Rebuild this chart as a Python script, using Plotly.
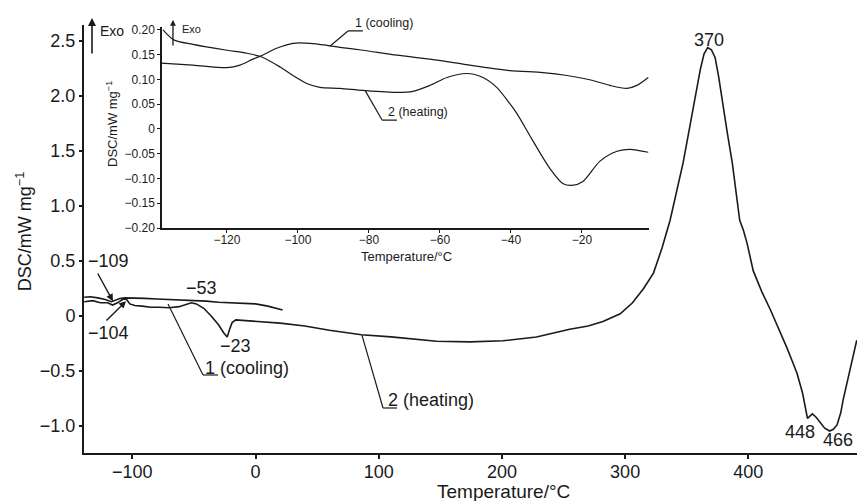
import plotly.graph_objects as go

# ---------------- data ----------------
# main chart: curve 1 (cooling)
cool_T = [-139, -134, -128, -122, -117, -114, -110, -106, -100, -90, -80, -70, -60,
          -50, -40, -30, -20, -10, 0, 10, 20, 22]
cool_v = [0.17, 0.175, 0.165, 0.15, 0.13, 0.14, 0.16, 0.165, 0.165, 0.16, 0.155, 0.15, 0.15,
          0.14, 0.135, 0.125, 0.12, 0.12, 0.11, 0.09, 0.065, 0.055]

# main chart: curve 2 (heating)
heat_T = [-139, -132, -126, -120, -116, -112, -108, -105, -102, -98, -92, -85, -78, -70,
          -62, -56, -52, -48, -42, -36, -30, -26, -23, -21, -19, -16, -10, 0, 20, 40, 60,
          86, 110, 147, 174, 201, 228, 255, 270, 282, 296, 306, 315, 323, 330, 336.5, 342,
          347, 351, 355, 358, 361, 364, 367, 370, 373, 376, 379, 383, 387, 390, 393, 396,
          399, 404, 411, 418, 425, 431, 436, 439.5, 444, 446, 448, 450, 452, 455, 458.5,
          462, 466, 469, 472, 475, 477, 481, 485, 488]
heat_v = [0.13, 0.14, 0.12, 0.12, 0.10, 0.12, 0.15, 0.155, 0.11, 0.095, 0.09, 0.08, 0.08,
          0.075, 0.085, 0.11, 0.12, 0.11, 0.07, 0.0, -0.08, -0.15, -0.19, -0.12, -0.06,
          -0.035, -0.04, -0.045, -0.065, -0.09, -0.13, -0.17, -0.19, -0.23, -0.235, -0.225,
          -0.19, -0.12, -0.09, -0.05, 0.02, 0.12, 0.25, 0.39, 0.62, 0.87, 1.13, 1.39, 1.63,
          1.87, 2.06, 2.24, 2.38, 2.44, 2.42, 2.35, 2.17, 1.94, 1.66, 1.39, 1.13, 0.87,
          0.78, 0.66, 0.41, 0.22, 0.055, -0.12, -0.28, -0.42, -0.52, -0.70, -0.80, -0.93,
          -0.91, -0.89, -0.92, -0.97, -1.02, -1.045, -1.03, -0.99, -0.88, -0.76, -0.56,
          -0.37, -0.22]

# inset: curve 2 (heating)
in_heat_T = [-138, -135, -129.6, -120, -114.4, -110, -105, -101.4, -97.5, -93.8, -88.2,
             -81.7, -72.1, -67.6, -62.8, -58, -52.4, -47.9, -44, -40.3, -38.3, -33.8, -29,
             -25.4, -22.8, -19.7, -14.9, -10.1, -6.5, -1.3]
in_heat_v = [0.20, 0.18, 0.171, 0.159, 0.153, 0.145, 0.125, 0.108, 0.092, 0.084, 0.082,
             0.078, 0.074, 0.076, 0.088, 0.104, 0.112, 0.104, 0.084, 0.051, 0.031, -0.024,
             -0.080, -0.110, -0.114, -0.106, -0.065, -0.045, -0.041, -0.047]

# inset: curve 1 (cooling)
in_cool_T = [-138.8, -129.6, -120, -116.3, -112.7, -110, -106, -101.4, -96.6, -91.8, -88.2,
             -81.7, -72.1, -62.8, -53.5, -40.3, -31, -24.2, -16.9, -12.1, -7.3, -4.5, -1.3]
in_cool_v = [0.133, 0.129, 0.124, 0.129, 0.141, 0.149, 0.163, 0.173, 0.173, 0.169, 0.165,
             0.159, 0.149, 0.141, 0.131, 0.118, 0.114, 0.108, 0.098, 0.088, 0.082, 0.088,
             0.104]

main_xticks = [-100, 0, 100, 200, 300, 400]
main_yticks = [-1.0, -0.5, 0, 0.5, 1.0, 1.5, 2.0, 2.5]
main_yticktext = ["−1.0", "−0.5", "0", "0.5", "1.0", "1.5", "2.0", "2.5"]
inset_xticks = [-120, -100, -80, -60, -40, -20]
inset_yticks = [-0.20, -0.15, -0.10, -0.05, 0, 0.05, 0.10, 0.15, 0.20]
inset_yticktext = ["−0.20", "−0.15", "−0.10", "−0.05", "0", "0.05", "0.10", "0.15", "0.20"]

INK = "#1a1a1a"
FONT = "Liberation Sans, Arial, sans-serif"

fig = go.Figure()
fig.add_trace(go.Scatter(x=cool_T, y=cool_v, mode="lines", line=dict(color=INK, width=1.6),
                         xaxis="x", yaxis="y", showlegend=False, hoverinfo="skip"))
fig.add_trace(go.Scatter(x=heat_T, y=heat_v, mode="lines", line=dict(color=INK, width=1.6),
                         xaxis="x", yaxis="y", showlegend=False, hoverinfo="skip"))
fig.add_trace(go.Scatter(x=in_heat_T, y=in_heat_v, mode="lines",
                         line=dict(color=INK, width=1.2, shape="spline", smoothing=0.8),
                         xaxis="x2", yaxis="y2", showlegend=False, hoverinfo="skip"))
fig.add_trace(go.Scatter(x=in_cool_T, y=in_cool_v, mode="lines",
                         line=dict(color=INK, width=1.2, shape="spline", smoothing=0.8),
                         xaxis="x2", yaxis="y2", showlegend=False, hoverinfo="skip"))

axis_common = dict(showgrid=False, zeroline=False, showline=True, linecolor=INK,
                   ticks="outside", tickcolor=INK, color=INK)

fig.update_layout(
    width=857, height=501,
    margin=dict(l=84, r=0, t=25, b=48),
    paper_bgcolor="white", plot_bgcolor="white",
    font=dict(family=FONT, color=INK),
    xaxis=dict(**axis_common, range=[-139.2, 488.2], domain=[0, 1], anchor="y",
               tickvals=main_xticks, linewidth=2, ticklen=4, tickwidth=1.5,
               ticklabelstandoff=-3, tickfont=dict(size=18)),
    yaxis=dict(**axis_common, range=[-1.245, 2.645], domain=[0, 1], anchor="x",
               tickvals=main_yticks, ticktext=main_yticktext, linewidth=2, ticklen=3,
               tickwidth=1.5, tickfont=dict(size=18)),
    xaxis2=dict(**axis_common, range=[-138.3, -1.1], domain=[0.1009, 0.7309], anchor="y2",
                tickvals=inset_xticks, linewidth=1.5, ticklen=3, tickwidth=1,
                ticklabelstandoff=-3, tickfont=dict(size=12)),
    yaxis2=dict(**axis_common, range=[-0.2, 0.205], domain=[0.5257, 0.9942], anchor="x2",
                tickvals=inset_yticks, ticktext=inset_yticktext, linewidth=1.5, ticklen=3,
                tickwidth=1, tickfont=dict(size=12)),
)


def label(text, xref, yref, x, y, size, xanchor="center", yanchor="middle", **kw):
    return dict(text=text, xref=xref, yref=yref, x=x, y=y, xanchor=xanchor,
                yanchor=yanchor, showarrow=False, font=dict(size=size), **kw)


ann = []
# axis titles
ann.append(label("Temperature/°C", "paper", "paper", 0.5433, -0.089, 19))
ann.append(label("DSC/mW mg<sup>−1</sup>", "paper", "paper", -0.0776, 0.516, 18,
                 textangle=-90))
ann.append(label("Temperature/°C", "paper", "paper", 0.4166, 0.4600, 13))
ann.append(label("DSC/mW mg<sup>−1</sup>", "paper", "paper", 0.0362, 0.7687, 13,
                 textangle=-90))
# Exo arrows
ann.append(dict(text="", xref="paper", yref="paper", x=0.01035, y=1.0164, ax=0, ay=37,
                showarrow=True, arrowhead=2, arrowsize=1, arrowwidth=1.6, arrowcolor=INK))
ann.append(label("Exo", "paper", "paper", 0.0181, 0.986, 14, xanchor="left"))
ann.append(dict(text="", xref="paper", yref="paper", x=0.1151, y=1.0117, ax=0, ay=27,
                showarrow=True, arrowhead=2, arrowsize=0.9, arrowwidth=1.3, arrowcolor=INK))
ann.append(label("Exo", "paper", "paper", 0.1242, 0.9907, 11, xanchor="left"))
# main peak labels
for txt, tx, ty in [("370", 368, 2.51), ("448", 442, -1.055), ("466", 472.8, -1.127),
                    ("−109", -119.7, 0.50), ("−104", -119.7, -0.155), ("−53", -43.5, 0.255),
                    ("−23", -16.6, -0.27)]:
    ann.append(label(txt, "x", "y", tx, ty, 18))
# arrows to -109 / -104
ann.append(dict(text="", xref="x", yref="y", axref="x", ayref="y", x=-115.7, y=0.135,
                ax=-128.7, ay=0.40, showarrow=True, arrowhead=2, arrowsize=1,
                arrowwidth=1.4, arrowcolor=INK))
ann.append(dict(text="", xref="x", yref="y", axref="x", ayref="y", x=-105.1, y=0.135,
                ax=-122.2, ay=-0.055, showarrow=True, arrowhead=2, arrowsize=1,
                arrowwidth=1.4, arrowcolor=INK))
# curve labels (main)
ann.append(label("1 (cooling)", "x", "y", -42.3, -0.47, 18, xanchor="left"))
ann.append(label("2 (heating)", "x", "y", 106.0, -0.76, 18, xanchor="left"))
# curve labels (inset) -- paper coordinates so they are not hidden outside the range
ann.append(label("1 (cooling)", "paper", "paper", (353 - 84) / 773, (453 - 23) / 428, 12.5,
                 xanchor="left"))
ann.append(label("2 (heating)", "x2", "y2", -75.2, 0.035, 12.5, xanchor="left"))
fig.update_layout(annotations=ann)

# leader lines
line_style = dict(color=INK, width=1.2)
shapes = []
for xr, yr, pts in [
    ("x", "y", [(-71, 0.11), (-42.6, -0.536), (-30.4, -0.536)]),
    ("x", "y", [(86.4, -0.173), (103.5, -0.836), (114.9, -0.836)]),
    ("x2", "y2", [(-91, 0.167), (-85.9, 0.198), (-81.7, 0.198)]),
    ("x2", "y2", [(-81.1, 0.078), (-76.3, 0.018), (-72.1, 0.018)]),
]:
    for (x0, y0), (x1, y1) in zip(pts[:-1], pts[1:]):
        shapes.append(dict(type="line", xref=xr, yref=yr, x0=x0, y0=y0, x1=x1, y1=y1,
                           line=line_style))
fig.update_layout(shapes=shapes)

fig.write_html("out.html")
